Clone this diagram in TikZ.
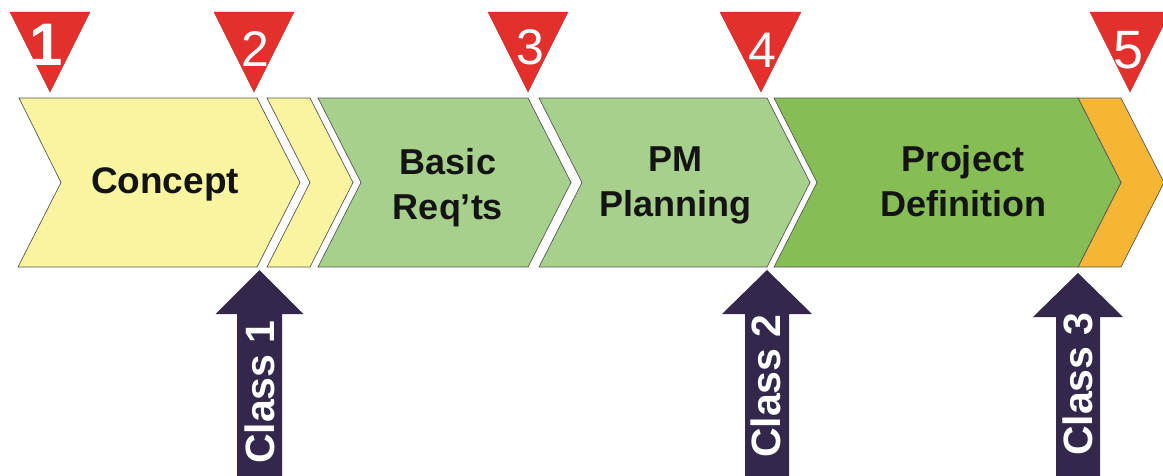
\documentclass[tikz,border=0pt]{standalone}
\usepackage{fontspec}
\setmainfont{Liberation Sans}
\definecolor{cyellow}{HTML}{F8F4A0}
\definecolor{clgreen}{HTML}{A8D08D}
\definecolor{cmgreen}{HTML}{86BD55}
\definecolor{corange}{HTML}{F5B535}
\definecolor{tred}{HTML}{E3302D}
\definecolor{navy}{HTML}{33284B}
\begin{document}
\begin{tikzpicture}[x=1pt,y=-1pt,
  chev/.style={draw=black!65, line width=0.7pt, line join=miter},
  tri/.style={fill=tred, draw=tred!80!black, line width=0.4pt},
  num/.style={text=white, inner sep=0, font=\fontsize{50}{50}\selectfont},
  lbl/.style={text=black!92, inner sep=0, align=center, font=\bfseries\fontsize{36}{45}\selectfont},
  uparrow/.style={fill=navy, draw=none},
  cls/.style={text=white, inner sep=0, rotate=90, font=\bfseries\fontsize{41}{41}\selectfont}]
\useasboundingbox (0,0) rectangle (1163,475);
\fill[white] (0,0) rectangle (1163,475);
\begin{scope}
\clip (0,0) rectangle (1163,475);
% chevrons
\filldraw[chev, fill=cyellow] (19,98) -- (257,98) -- (300,182.5) -- (257,267) -- (18,267) -- (61,182.5) -- cycle;
\filldraw[chev, fill=cyellow] (267,98) -- (310,98) -- (353,182.5) -- (310,267) -- (267,267) -- (310,182.5) -- cycle;
\filldraw[chev, fill=clgreen] (318,98) -- (528,98) -- (571,182.5) -- (528,267) -- (318,267) -- (361,182.5) -- cycle;
\filldraw[chev, fill=clgreen] (539,98) -- (767,98) -- (810,182.5) -- (767,267) -- (539,267) -- (582,182.5) -- cycle;
\filldraw[chev, fill=corange] (1078,98) -- (1121,98) -- (1164,182.5) -- (1121,267) -- (1078,267) -- (1121,182.5) -- cycle;
\filldraw[chev, fill=cmgreen] (774,98) -- (1078,98) -- (1121,182.5) -- (1078,267) -- (774,267) -- (817,182.5) -- cycle;
% triangles
\filldraw[tri] (10,12) -- (90,12) -- (50,92) -- cycle;
\filldraw[tri] (214,12) -- (294,12) -- (254,92) -- cycle;
\filldraw[tri] (488,12) -- (568,12) -- (528,92) -- cycle;
\filldraw[tri] (720,12) -- (801,12) -- (761,92) -- cycle;
\filldraw[tri] (1090,12) -- (1170,12) -- (1130,92) -- cycle;
% up arrows
\fill[uparrow] (259.5,270) -- (303.5,314) -- (282,314) -- (282,480) -- (237,480) -- (237,314) -- (215.5,314) -- cycle;
\fill[uparrow] (767,270) -- (812,314) -- (789,314) -- (789,480) -- (745,480) -- (745,314) -- (722,314) -- cycle;
\fill[uparrow] (1078,273) -- (1123,317) -- (1100,317) -- (1100,480) -- (1056,480) -- (1056,317) -- (1033,317) -- cycle;
\end{scope}
% numbers
\node[num, font=\bfseries\fontsize{60}{60}\selectfont] (n1) at (46,45) {1};
\node[num] (n2) at (255,49) {2};
\node[num] (n3) at (530,47) {3};
\node[num] (n4) at (762,50) {4};
\node[num, font=\fontsize{54}{54}\selectfont] (n5) at (1129,50) {5};
% labels
\node[lbl, font=\bfseries\fontsize{37}{45}\selectfont] (concept) at (165,184) {Concept};
\node[lbl] (basic) at (448,188) {Basic\\Req’ts};
\node[lbl] (pm) at (675,185) {PM\\Planning};
\node[lbl] (projdef) at (963,181) {Project\\Definition};
% class labels
\node[cls] (c1) at (260,392) {Class 1};
\node[cls] (c2) at (766,386) {Class 2};
\node[cls] (c3) at (1078,384) {Class 3};
\end{tikzpicture}
\end{document}
